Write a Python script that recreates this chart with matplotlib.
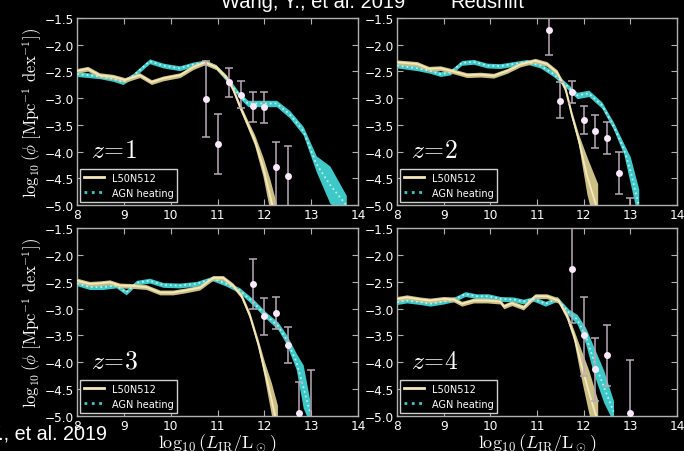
import numpy as np
import matplotlib
matplotlib.use('Agg')
import matplotlib.pyplot as plt
from matplotlib.lines import Line2D
from matplotlib.ticker import FuncFormatter

plt.rcParams['mathtext.fontset'] = 'cm'
plt.rcParams['font.family'] = 'DejaVu Sans'

# infrared luminosity functions, one entry per redshift z=1..4
redshifts = [1, 2, 3, 4]

# L50N512 reference run: bin centres, log phi and half width of the scatter band
ref_x = [
    [8.0, 8.23, 8.48, 8.77, 9.02, 9.34, 9.59, 9.84, 10.2, 10.48, 10.73, 10.97, 11.19, 11.33, 11.47, 11.61, 11.79, 11.97, 12.12, 12.25],
    [8.0, 8.43, 8.68, 8.93, 9.21, 9.5, 9.79, 10.07, 10.36, 10.64, 10.96, 11.21, 11.43, 11.61, 11.75, 11.89, 12.07, 12.3],
    [8.0, 8.27, 8.48, 8.7, 8.91, 9.2, 9.48, 9.77, 10.05, 10.33, 10.62, 10.9, 11.12, 11.33, 11.51, 11.69, 11.87, 12.0, 12.15, 12.28],
    [8.0, 8.21, 8.5, 8.71, 9.0, 9.21, 9.39, 9.64, 9.93, 10.21, 10.29, 10.46, 10.71, 10.96, 11.21, 11.46, 11.64, 11.79, 11.93, 12.11, 12.3],
]
ref_phi = [
    [-2.49, -2.45, -2.57, -2.60, -2.66, -2.57, -2.70, -2.63, -2.57, -2.42, -2.33, -2.42, -2.61, -2.83, -3.14, -3.42, -3.78, -4.28, -4.82, -5.3],
    [-2.33, -2.36, -2.45, -2.44, -2.50, -2.57, -2.56, -2.58, -2.49, -2.37, -2.30, -2.36, -2.52, -2.83, -3.33, -3.77, -4.45, -5.1],
    [-2.48, -2.54, -2.53, -2.51, -2.57, -2.58, -2.60, -2.70, -2.70, -2.66, -2.61, -2.43, -2.43, -2.57, -2.76, -3.13, -3.66, -4.13, -4.68, -5.2],
    [-2.82, -2.79, -2.83, -2.85, -2.82, -2.83, -2.91, -2.85, -2.85, -2.87, -2.96, -2.90, -2.98, -2.77, -2.77, -2.85, -3.13, -3.5, -3.98, -4.55, -5.1],
]
ref_hw = [
    [0.045] * 13 + [0.05, 0.06, 0.07, 0.1, 0.18, 0.3, 0.35],
    [0.045] * 12 + [0.05, 0.06, 0.07, 0.1, 0.35, 0.5],
    [0.045] * 14 + [0.05, 0.06, 0.08, 0.15, 0.3, 0.4],
    [0.045] * 15 + [0.05, 0.07, 0.1, 0.25, 0.4, 0.4],
]

# AGN heating run
agn_x = [
    [8.0, 8.48, 8.77, 8.98, 9.2, 9.55, 9.84, 10.19, 10.48, 10.73, 10.97, 11.26, 11.47, 11.65, 11.97, 12.26, 12.54, 12.83, 13.11, 13.4, 13.75],
    [8.0, 8.43, 8.71, 8.93, 9.14, 9.39, 9.64, 9.93, 10.21, 10.5, 10.79, 11.07, 11.36, 11.64, 11.86, 12.11, 12.39, 12.64, 12.86, 13.0, 13.18],
    [8.0, 8.27, 8.55, 8.84, 9.05, 9.27, 9.55, 9.84, 10.19, 10.55, 10.9, 11.19, 11.47, 11.76, 12.04, 12.29, 12.47, 12.68, 12.83, 12.97],
    [8.0, 8.21, 8.5, 8.71, 9.0, 9.25, 9.46, 9.71, 9.96, 10.21, 10.5, 10.71, 10.93, 11.18, 11.43, 11.68, 11.86, 12.04, 12.21, 12.43, 12.64],
]
agn_phi = [
    [-2.55, -2.59, -2.64, -2.70, -2.58, -2.31, -2.39, -2.44, -2.37, -2.33, -2.42, -2.70, -2.95, -3.10, -3.10, -3.10, -3.30, -3.61, -4.23, -4.62, -5.0],
    [-2.39, -2.44, -2.49, -2.55, -2.52, -2.34, -2.32, -2.39, -2.40, -2.36, -2.32, -2.39, -2.55, -2.77, -2.95, -2.91, -3.13, -3.52, -3.95, -4.35, -5.0],
    [-2.53, -2.60, -2.60, -2.57, -2.70, -2.52, -2.48, -2.56, -2.57, -2.54, -2.44, -2.54, -2.66, -2.88, -3.13, -3.32, -3.57, -3.98, -4.45, -4.92],
    [-2.88, -2.85, -2.88, -2.91, -2.87, -2.82, -2.73, -2.77, -2.77, -2.82, -2.83, -2.87, -2.82, -2.91, -2.82, -3.07, -3.2, -3.5, -3.95, -4.45, -4.92],
]
agn_hw = [
    [0.045] * 11 + [0.05, 0.05, 0.06, 0.06, 0.06, 0.07, 0.08, 0.15, 0.35, 0.18],
    [0.045] * 12 + [0.05, 0.05, 0.06, 0.06, 0.06, 0.07, 0.1, 0.25, 0.3],
    [0.045] * 12 + [0.05, 0.06, 0.06, 0.07, 0.09, 0.15, 0.4, 0.22],
    [0.045] * 15 + [0.06, 0.09, 0.15, 0.25, 0.3, 0.2],
]

# observed LF (Wang et al. 2019) with asymmetric errors
obs_x = [
    [10.75, 11.0, 11.25, 11.5, 11.75, 12.0, 12.25, 12.5],
    [11.25, 11.5, 11.75, 12.0, 12.25, 12.5, 12.75, 13.0],
    [11.75, 12.0, 12.25, 12.5, 12.75, 13.0],
    [11.75, 12.0, 12.25, 12.5, 13.0],
]
obs_phi = [
    [-3.02, -3.86, -2.70, -2.94, -3.15, -3.17, -4.28, -4.46],
    [-1.72, -3.05, -2.89, -3.40, -3.62, -3.75, -4.40, -5.25],
    [-2.54, -3.14, -3.08, -3.67, -4.94, -5.30],
    [-2.27, -3.50, -4.13, -3.87, -4.95],
]
obs_up = [
    [0.72, 0.57, 0.26, 0.27, 0.27, 0.29, 0.45, 0.57],
    [0.30, 0.35, 0.22, 0.26, 0.31, 0.30, 0.39, 0.39],
    [0.46, 0.33, 0.30, 0.33, 0.58, 1.16],
    [0.90, 0.71, 0.58, 0.56, 1.00],
]
obs_lo = [
    [0.71, 0.56, 0.27, 0.25, 0.29, 0.30, 0.75, 0.60],
    [0.47, 0.32, 0.21, 0.27, 0.31, 0.30, 0.40, 0.40],
    [0.46, 0.35, 0.30, 0.35, 0.50, 0.50],
    [1.00, 0.75, 0.59, 0.58, 0.50],
]

ref_band = '#cbbf86'
ref_line = '#f5e9bb'
agn_band = '#3ec8c8'
agn_line = '#b8f2f2'
err_col = '#b9a9b9'
pt_col = '#fbe9fb'
spine_col = '#b0b0b0'

minus_fmt = FuncFormatter(lambda v, p: ('%.1f' % v).replace('-', '\u2212'))

fig = plt.figure(figsize=(6.84, 4.52), dpi=100, facecolor='black')
W, H = 684.0, 452.0
boxes = [(77, 19, 358, 206), (397, 19, 677, 206), (77, 229, 358, 417), (397, 229, 677, 417)]

for i, (x0, y0, x1, y1) in enumerate(boxes):
    ax = fig.add_axes([x0 / W, 1 - y1 / H, (x1 - x0) / W, (y1 - y0) / H])
    ax.set_facecolor('black')

    xr, pr, hr = np.array(ref_x[i]), np.array(ref_phi[i]), np.array(ref_hw[i])
    xa, pa, ha = np.array(agn_x[i]), np.array(agn_phi[i]), np.array(agn_hw[i])

    ax.fill_between(xa, pa - ha, pa + ha, color=agn_band, lw=0, zorder=2)
    ax.plot(xa, pa, ':', color=agn_line, lw=1.3, zorder=3)
    ax.fill_between(xr, pr - hr, pr + hr, color=ref_band, lw=0, zorder=2)
    ax.plot(xr, pr, '-', color=ref_line, lw=1.3, zorder=3)

    ax.errorbar(obs_x[i], obs_phi[i], yerr=[obs_lo[i], obs_up[i]], fmt='o',
                color=pt_col, ms=5, mec='none', ecolor=err_col, elinewidth=1.1,
                capsize=3, capthick=1.1, zorder=5)

    ax.set_xlim(8, 14)
    ax.set_ylim(-5.0, -1.5)
    ax.set_xticks(np.arange(8, 15, 1))
    ax.set_yticks(np.arange(-5.0, -1.4, 0.5))
    ax.yaxis.set_major_formatter(minus_fmt)
    ax.tick_params(direction='in', top=True, right=True, length=4, width=0.8,
                   color=spine_col, labelcolor='white', labelsize=8.7, pad=2)
    for s in ax.spines.values():
        s.set_color(spine_col)
        s.set_linewidth(1.0)

    ax.text(8.3, -4.1, r'$z\!=\!%d$' % redshifts[i], color='white', fontsize=18.5,
            va='baseline', ha='left')

    handles = [Line2D([], [], color=ref_line, lw=2, ls='-'),
               Line2D([], [], color=agn_band, lw=2, ls=':')]
    leg = ax.legend(handles, ['L50N512', 'AGN heating'], loc='lower left',
                    fontsize=7, frameon=True, fancybox=False, borderaxespad=0.35,
                    handlelength=2.0, labelcolor='white')
    leg.get_frame().set_facecolor('black')
    leg.get_frame().set_edgecolor('#d0d0d0')
    leg.get_frame().set_linewidth(1.0)
    leg.get_frame().set_alpha(1.0)

ylab = r'$\log_{10}(\phi\ [\mathrm{Mpc}^{-1}\ \mathrm{dex}^{-1}])$'
xlab = r'$\log_{10}(L_{\rm IR}/\mathrm{L}_\odot)$'
for yc in (112.5, 323):
    fig.text(32 / W, 1 - yc / H, ylab, rotation=90, color='white', fontsize=12,
             ha='center', va='center')
for xc in (217, 537):
    fig.text(xc / W, 4 / H, xlab, color='white', fontsize=13, ha='center', va='baseline')

fig.text(405 / W, 1 - 7.5 / H, 'Wang, Y., et al. 2019', color='white', fontsize=14.5,
         family='Liberation Sans', ha='right', va='baseline')
fig.text(450 / W, 1 - 7.5 / H, 'Redshift', color='white', fontsize=14.5,
         family='Liberation Sans', ha='left', va='baseline')
fig.text(107 / W, 1 - 440.5 / H, 'Wang, Y., et al. 2019', color='white', fontsize=14.2,
         family='Liberation Sans', ha='right', va='baseline')

fig.savefig('out.png', dpi=100, facecolor='black')
